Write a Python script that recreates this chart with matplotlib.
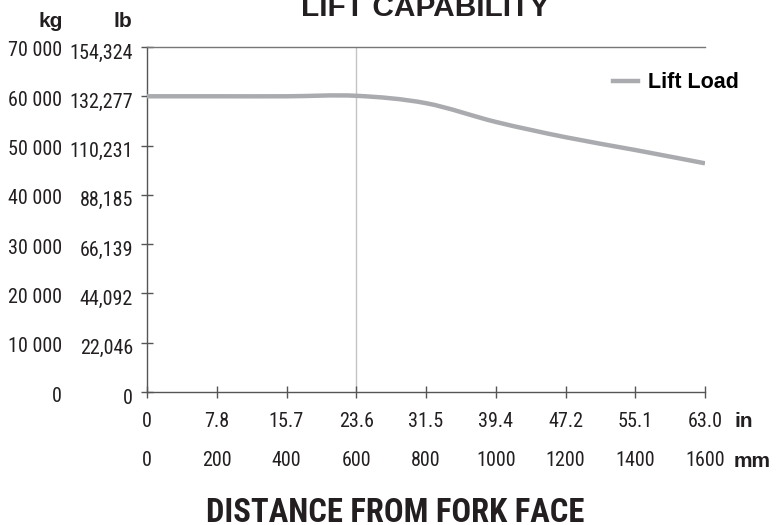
import matplotlib
matplotlib.use("Agg")
import matplotlib.pyplot as plt
from matplotlib.path import Path
from matplotlib.patches import PathPatch
from matplotlib.lines import Line2D
from matplotlib.transforms import ScaledTranslation

# データ
distance_mm = [0, 200, 400, 600, 800, 1000, 1200, 1400, 1600]
distance_in = ["0", "7.8", "15.7", "23.6", "31.5", "39.4", "47.2", "55.1", "63.0"]
lift_load_kg = [60000, 60000, 60000, 60100, 58600, 54800, 51700, 49100, 46400]
y_ticks_kg = [0, 10000, 20000, 30000, 40000, 50000, 60000, 70000]
y_labels_kg = ["0", "10 000", "20 000", "30 000", "40 000", "50 000", "60 000", "70 000"]
y_labels_lb = ["0", "22,046", "44,092", "66,139", "88,185", "110,231", "132,277", "154,324"]

NARROW = ["Roboto Condensed", "DejaVu Sans"]
WIDE = ["Liberation Sans", "DejaVu Sans"]
LINE_COLOR = "#aaabaf"
AXIS_COLOR = "#555555"
TEXT_COLOR = "#231f20"
FS = 14.5

plt.rcParams["font.family"] = NARROW


def smooth_path(xs, ys):
    """Catmull-Rom風のベジェ曲線パスを作る（Excelのスムージング線）"""
    pts = list(zip(xs, ys))
    n = len(pts)
    verts = [pts[0]]
    codes = [Path.MOVETO]
    for i in range(n - 1):
        p0 = pts[i - 1] if i > 0 else pts[i]
        p1 = pts[i]
        p2 = pts[i + 1]
        p3 = pts[i + 2] if i + 2 < n else pts[i + 1]
        c1 = (p1[0] + (p2[0] - p0[0]) / 6, p1[1] + (p2[1] - p0[1]) / 6)
        c2 = (p2[0] - (p3[0] - p1[0]) / 6, p2[1] - (p3[1] - p1[1]) / 6)
        verts += [c1, c2, p2]
        codes += [Path.CURVE4] * 3
    return Path(verts, codes)


def fy(py):
    """上からのピクセル位置を図の座標に変換"""
    return 1 - py / 525


fig = plt.figure(figsize=(7.78, 5.25), dpi=100)
ax = fig.add_axes([147 / 778, fy(392), (705 - 147) / 778, (392 - 47) / 525])

ax.set_xlim(0, 1600)
ax.set_ylim(0, 70000)

# 600mm の縦線
ax.axvline(600, color="#c4c4c4", linewidth=1, zorder=1)

# 荷重カーブ
patch = PathPatch(smooth_path(distance_mm, lift_load_kg), fill=False,
                  edgecolor=LINE_COLOR, linewidth=3.2, capstyle="butt", zorder=3)
ax.add_patch(patch)

# スパイン
for side in ["left", "bottom", "top"]:
    ax.spines[side].set_color(AXIS_COLOR)
    ax.spines[side].set_linewidth(1)
ax.spines["top"].set_color("#777777")
ax.spines["right"].set_visible(False)

# 目盛り
ax.set_yticks(y_ticks_kg)
ax.set_yticklabels(y_labels_lb)
ax.set_xticks(distance_mm)
ax.set_xticklabels(distance_in)
ax.tick_params(axis="both", direction="inout", length=8, width=1,
               color=AXIS_COLOR, labelsize=FS, labelcolor=TEXT_COLOR)
ax.tick_params(axis="y", pad=6)
ax.tick_params(axis="x", pad=10.5)

# ラベルを少し下げる（元の図に合わせる）
shift = ScaledTranslation(0, -4 / 100, fig.dpi_scale_trans)
for lab in ax.get_yticklabels():
    lab.set_transform(lab.get_transform() + shift)

# kg 列
for val, lab in zip(y_ticks_kg, y_labels_kg):
    ax.annotate(lab, xy=(0, val), xycoords=("axes fraction", "data"),
                xytext=(-85 * 0.72, -4 * 0.72), textcoords="offset points",
                ha="right", va="center", fontsize=FS, color=TEXT_COLOR)

# mm 列
for val in distance_mm:
    ax.annotate(str(val), xy=(val, 0), xycoords=("data", "axes fraction"),
                xytext=(0, -68 * 0.72), textcoords="offset points",
                ha="center", va="center", fontsize=FS, color=TEXT_COLOR)

# 単位
unit_kw = dict(fontsize=15, fontweight="bold", family=WIDE, color=TEXT_COLOR, va="baseline")
fig.text(63 / 778, fy(27), "kg", ha="right", **unit_kw)
fig.text(132 / 778, fy(27), "lb", ha="right", **unit_kw)
fig.text(735 / 778, fy(427), "in", ha="left", **unit_kw)
fig.text(734 / 778, fy(467), "mm", ha="left", **unit_kw)

# タイトル
fig.text(425 / 778, fy(16), "LIFT CAPABILITY", ha="center", va="baseline",
         fontsize=21.5, fontweight="bold", family=WIDE, color=TEXT_COLOR)
fig.text(395 / 778, fy(522), "DISTANCE FROM FORK FACE", ha="center", va="baseline",
         fontsize=23.5, fontweight="bold", color=TEXT_COLOR)

# 凡例
handle = Line2D([], [], color=LINE_COLOR, linewidth=3.2)
ax.legend([handle], ["Lift Load"], loc="center right",
          bbox_to_anchor=(739 / 778, fy(83)), bbox_transform=fig.transFigure,
          frameon=False, handlelength=1.16, handletextpad=0.46, borderpad=0,
          borderaxespad=0,
          prop={"family": WIDE, "weight": "bold", "size": 15.5})

fig.savefig("out.png", dpi=100)
